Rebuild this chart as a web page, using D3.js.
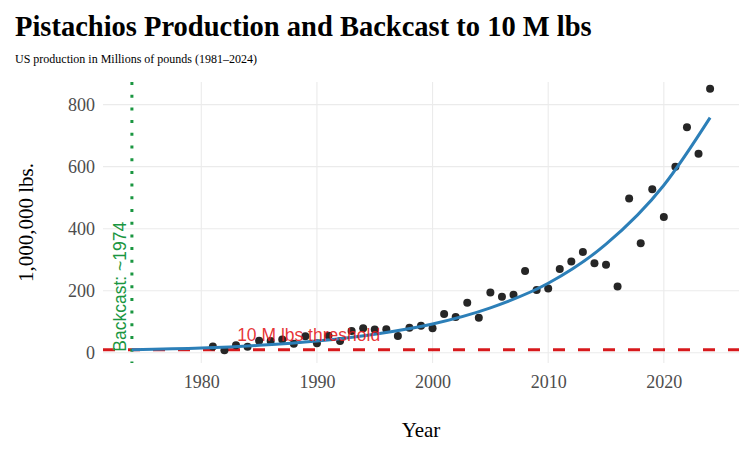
<!DOCTYPE html>
<html>
<head>
<meta charset="utf-8">
<style>
  body { margin: 0; background: white; }
  svg { display: block; }
</style>
<script src="https://cdn.jsdelivr.net/npm/d3@7"></script>
</head>
<body>
<svg id="chart"></svg>
<script>
// US pistachio production, millions of lbs
const years = [1981, 1982, 1983, 1984, 1985, 1986, 1987, 1988, 1989, 1990,
  1991, 1992, 1993, 1994, 1995, 1996, 1997, 1998, 1999, 2000,
  2001, 2002, 2003, 2004, 2005, 2006, 2007, 2008, 2009, 2010,
  2011, 2012, 2013, 2014, 2015, 2016, 2017, 2018, 2019, 2020,
  2021, 2022, 2023, 2024];
const production = [20, 8, 24, 19, 39, 38, 43, 29, 53, 31,
  55, 38, 70, 79, 75, 76, 54, 81, 87, 79,
  125, 115, 161, 113, 194, 181, 187, 264, 202, 207,
  270, 294, 325, 289, 284, 214, 497, 353, 527, 438,
  600, 727, 642, 851];

// fitted backcast curve
const fitYears = [1974, 1980, 1985, 1990, 1995, 2000, 2005, 2010, 2015, 2020, 2024];
const fitValues = [10, 15, 24, 38, 60, 93, 145, 224, 350, 540, 758];

const threshold = 10;
const backcastYear = 1974;
const xTicks = [1980, 1990, 2000, 2010, 2020];
const yTicks = [0, 200, 400, 600, 800];

const width = 756, height = 457;
const panel = { left: 103, right: 739, top: 82, bottom: 363 };
const serif = "'Liberation Serif', 'Times New Roman', serif";
const sans = "'Liberation Sans', Arial, sans-serif";

const svg = d3.select("#chart").attr("width", width).attr("height", height);

const x = d3.scaleLinear().domain([1971.5, 2026.5]).range([panel.left, panel.right]);
const y = d3.scaleLinear().domain([-33, 873]).range([panel.bottom, panel.top]);

// grid
svg.append("g").selectAll("line").data(yTicks).enter().append("line")
  .attr("x1", panel.left).attr("x2", panel.right)
  .attr("y1", d => y(d)).attr("y2", d => y(d))
  .attr("stroke", "#ebebeb").attr("stroke-width", 1.1);
svg.append("g").selectAll("line").data(xTicks).enter().append("line")
  .attr("y1", panel.top).attr("y2", panel.bottom)
  .attr("x1", d => x(d)).attr("x2", d => x(d))
  .attr("stroke", "#ebebeb").attr("stroke-width", 1.1);

// axes (labels only, no lines)
let axisY = d3.axisLeft(y).tickValues(yTicks).tickSize(0).tickPadding(8);
let gy = svg.append("g").attr("transform", `translate(${panel.left},0)`).call(axisY);
gy.select(".domain").remove();
gy.selectAll("text").attr("font-family", serif).attr("font-size", 18).attr("fill", "#4d4d4d");

let axisX = d3.axisBottom(x).tickValues(xTicks).tickFormat(d3.format("d")).tickSize(0).tickPadding(12);
let gx = svg.append("g").attr("transform", `translate(0,${panel.bottom})`).call(axisX);
gx.select(".domain").remove();
gx.selectAll("text").attr("font-family", serif).attr("font-size", 18).attr("fill", "#4d4d4d");

// threshold line
svg.append("line")
  .attr("x1", panel.left).attr("x2", panel.right)
  .attr("y1", y(threshold)).attr("y2", y(threshold))
  .attr("stroke", "#d7191c").attr("stroke-width", 3)
  .attr("stroke-dasharray", "12,13");

// backcast vertical line
svg.append("line")
  .attr("x1", x(backcastYear)).attr("x2", x(backcastYear))
  .attr("y1", panel.top).attr("y2", panel.bottom)
  .attr("stroke", "#1a9641").attr("stroke-width", 3)
  .attr("stroke-dasharray", "3,9.7");

// points
svg.append("g").selectAll("circle").data(years).enter().append("circle")
  .attr("cx", d => x(d))
  .attr("cy", (d, i) => y(production[i]))
  .attr("r", 4)
  .attr("fill", "#262626");

// fitted curve
let line = d3.line()
  .x((d, i) => x(fitYears[i]))
  .y(d => y(d))
  .curve(d3.curveMonotoneX);
svg.append("path")
  .attr("d", line(fitValues))
  .attr("fill", "none")
  .attr("stroke", "#2c7fb8").attr("stroke-width", 3);

// annotations
svg.append("text")
  .attr("x", x(1983.1)).attr("y", y(threshold) - 9)
  .attr("font-family", sans).attr("font-size", 17.5)
  .attr("fill", "#e41a1c").attr("fill-opacity", 0.9)
  .text("10 M lbs threshold");

svg.append("text")
  .attr("transform", `translate(${x(backcastYear) - 6},${y(threshold) + 2}) rotate(-90)`)
  .attr("font-family", sans).attr("font-size", 17.5)
  .attr("fill", "#1a9641")
  .text("Backcast: ~1974");

// titles
svg.append("text")
  .attr("x", 15).attr("y", 36)
  .attr("font-family", serif).attr("font-size", 28.5).attr("font-weight", "bold")
  .text("Pistachios Production and Backcast to 10 M lbs");

svg.append("text")
  .attr("x", 15).attr("y", 63)
  .attr("font-family", serif).attr("font-size", 12)
  .text("US production in Millions of pounds (1981\u20132024)");

svg.append("text")
  .attr("x", (panel.left + panel.right) / 2).attr("y", 437)
  .attr("text-anchor", "middle")
  .attr("font-family", serif).attr("font-size", 21)
  .text("Year");

svg.append("text")
  .attr("transform", `translate(33,${(panel.top + panel.bottom) / 2}) rotate(-90)`)
  .attr("text-anchor", "middle")
  .attr("font-family", serif).attr("font-size", 21)
  .text("1,000,000 lbs.");
</script>
</body>
</html>
